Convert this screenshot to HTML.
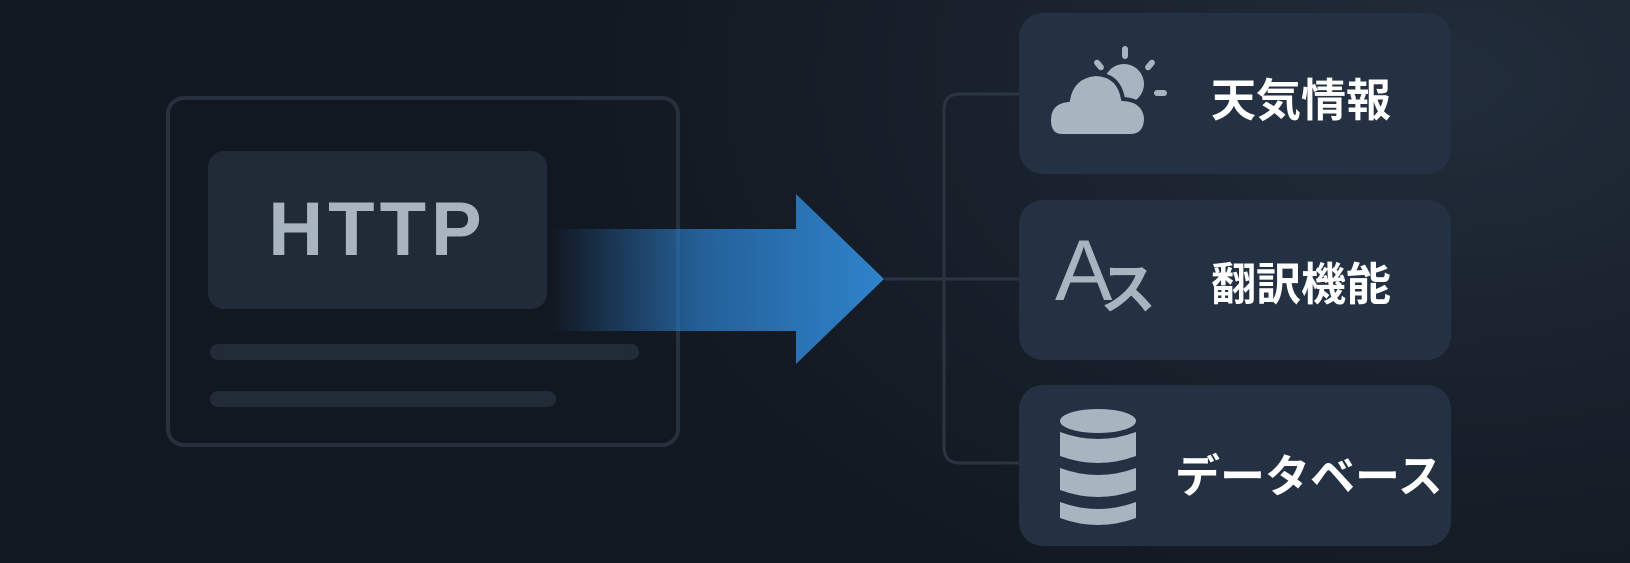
<!DOCTYPE html>
<html><head><meta charset="utf-8"><style>
html,body{margin:0;padding:0}
body{width:1630px;height:563px;overflow:hidden;position:relative;
background:radial-gradient(ellipse 900px 600px at 1450px 80px,#222d3b 0%,#18202b 55%,#121821 100%);
font-family:"Liberation Sans","Noto Sans CJK JP",sans-serif}
.a{position:absolute}
.frame{left:166px;top:96px;width:514px;height:351px;border:4px solid #27313e;border-radius:18px;box-sizing:border-box}
.http{left:208px;top:151px;width:339px;height:158px;background:#212b38;border-radius:16px;color:#a9b4c1;font-size:76px;font-weight:bold;text-align:center;line-height:158px;letter-spacing:5px}
.bar{background:#222c39;border-radius:8px;height:16px}
.box{left:1019px;width:432px;background:#233143;border-radius:24px}
.lbl{color:#fff;font-weight:bold;font-size:45px;position:absolute;font-family:"Noto Sans CJK JP",sans-serif}
</style></head><body>
<div class="a frame"></div>
<div class="a http">HTTP</div>
<div class="a bar" style="left:210px;top:344px;width:429px"></div>
<div class="a bar" style="left:210px;top:391px;width:346px"></div>
<svg class="a" style="left:0;top:0" width="1630" height="563">
<defs><linearGradient id="g" x1="551" x2="884" y1="0" y2="0" gradientUnits="userSpaceOnUse">
<stop offset="0" stop-color="#2a78c0" stop-opacity="0"/><stop offset="0.45" stop-color="#2a78c0" stop-opacity="0.75"/><stop offset="1" stop-color="#2f84cc"/></linearGradient></defs>
<path d="M551 229 H796 V194 L884 279 L796 364 V331 H551 Z" fill="url(#g)"/>
<path d="M884 279 H1019 M1019 94 H960 Q944 94 944 110 V447 Q944 463 960 463 H1019" fill="none" stroke="#2b3542" stroke-width="3"/>
</svg>
<div class="a box" style="top:13px;height:161px"></div>
<div class="a box" style="top:200px;height:160px"></div>
<div class="a box" style="top:385px;height:161px"></div>
<svg class="a" style="left:1046px;top:44px" width="130" height="100" viewBox="0 0 130 100">
<g fill="#a9b4c1">
<circle cx="78" cy="40" r="20"/>
<rect x="76" y="2" width="6" height="13" rx="3"/>
<rect x="101" y="15" width="6" height="12" rx="3" transform="rotate(40 104 21)"/>
<rect x="50" y="15" width="6" height="12" rx="3" transform="rotate(-40 53 21)"/>
<rect x="108" y="46" width="13" height="6" rx="3"/>
</g>
<g fill="#a9b4c1" stroke="#233143" stroke-width="4">
<path d="M16 92 Q3 92 3 76 Q3 58 22 56 Q26 32 50 30 Q73 31 77 55 Q98 56 100 74 Q100 92 84 92 Z"/>
</g>
</svg>
<div class="lbl" style="left:1211px;top:64px">天気情報</div>
<div class="a" style="left:1055px;top:228px;color:#a9b4c1;font-size:86px;font-family:'Liberation Sans',sans-serif;line-height:1">A</div>
<div class="a" style="left:1100px;top:258px;color:#a9b4c1;font-size:56px;font-weight:bold;font-family:'Noto Sans CJK JP',sans-serif;line-height:1">ス</div>
<div class="lbl" style="left:1211px;top:248px">翻訳機能</div>
<svg class="a" style="left:1058px;top:408px" width="95" height="125">
<g fill="#a9b4c1">
<ellipse cx="40" cy="13" rx="38" ry="12"/>
<path d="M2 24 Q40 38 78 24 V48 Q40 62 2 48 Z"/>
<path d="M2 60 Q40 74 78 60 V82 Q40 96 2 82 Z"/>
<path d="M2 94 Q40 108 78 94 V110 Q40 124 2 110 Z"/>
</g></svg>
<div class="lbl" style="left:1175px;top:440px">データベース</div>
</body></html>
